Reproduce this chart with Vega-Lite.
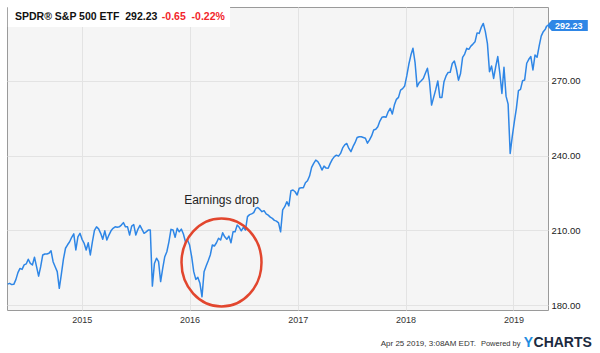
{
  "$schema": "https://vega.github.io/schema/vega-lite/v6.json",
  "width": 541,
  "height": 303,
  "autosize": {"type": "none"},
  "padding": {"left": 7, "top": 7, "right": 52, "bottom": 43},
  "background": "white",
  "config": {
    "font": "Liberation Sans",
    "view": {"fill": "#f5f5f5", "stroke": "#9a9a9a", "strokeWidth": 1}
  },
  "datasets": {
    "spy": [
      {"date": "2014-04-25", "close": 188.4}, {"date": "2014-05-02", "close": 188.7}, {"date": "2014-05-09", "close": 188.2}, {"date": "2014-05-16", "close": 188.3},
      {"date": "2014-05-23", "close": 190.2}, {"date": "2014-05-30", "close": 193.0}, {"date": "2014-06-06", "close": 194.7}, {"date": "2014-06-13", "close": 194.3},
      {"date": "2014-06-20", "close": 196.1}, {"date": "2014-06-27", "close": 196.5}, {"date": "2014-07-04", "close": 198.4}, {"date": "2014-07-11", "close": 196.7},
      {"date": "2014-07-18", "close": 196.1}, {"date": "2014-07-25", "close": 199.2}, {"date": "2014-08-01", "close": 195.4}, {"date": "2014-08-08", "close": 191.6},
      {"date": "2014-08-15", "close": 195.4}, {"date": "2014-08-22", "close": 200.1}, {"date": "2014-08-29", "close": 200.5}, {"date": "2014-09-05", "close": 200.5},
      {"date": "2014-09-12", "close": 200.8}, {"date": "2014-09-19", "close": 201.8}, {"date": "2014-09-26", "close": 197.4}, {"date": "2014-10-03", "close": 195.4},
      {"date": "2014-10-10", "close": 193.4}, {"date": "2014-10-17", "close": 186.7}, {"date": "2014-10-24", "close": 192.4}, {"date": "2014-10-31", "close": 198.4},
      {"date": "2014-11-07", "close": 202.8}, {"date": "2014-11-14", "close": 204.2}, {"date": "2014-11-21", "close": 205.4}, {"date": "2014-11-28", "close": 207.2},
      {"date": "2014-12-05", "close": 208.6}, {"date": "2014-12-12", "close": 202.1}, {"date": "2014-12-19", "close": 207.4}, {"date": "2014-12-26", "close": 208.8},
      {"date": "2015-01-02", "close": 206.4}, {"date": "2015-01-09", "close": 204.8}, {"date": "2015-01-16", "close": 202.1}, {"date": "2015-01-23", "close": 205.0},
      {"date": "2015-01-30", "close": 200.1}, {"date": "2015-02-06", "close": 205.4}, {"date": "2015-02-13", "close": 210.0}, {"date": "2015-02-20", "close": 211.4},
      {"date": "2015-02-27", "close": 210.6}, {"date": "2015-03-06", "close": 208.8}, {"date": "2015-03-13", "close": 206.4}, {"date": "2015-03-20", "close": 209.8},
      {"date": "2015-03-27", "close": 206.1}, {"date": "2015-04-03", "close": 208.1}, {"date": "2015-04-10", "close": 209.8}, {"date": "2015-04-17", "close": 210.8},
      {"date": "2015-04-24", "close": 211.4}, {"date": "2015-05-01", "close": 211.2}, {"date": "2015-05-08", "close": 211.4}, {"date": "2015-05-15", "close": 212.1},
      {"date": "2015-05-22", "close": 213.1}, {"date": "2015-05-29", "close": 211.4}, {"date": "2015-06-05", "close": 211.4}, {"date": "2015-06-12", "close": 208.1},
      {"date": "2015-06-19", "close": 211.7}, {"date": "2015-06-26", "close": 212.3}, {"date": "2015-07-03", "close": 208.1}, {"date": "2015-07-10", "close": 210.4},
      {"date": "2015-07-17", "close": 212.0}, {"date": "2015-07-24", "close": 210.4}, {"date": "2015-07-31", "close": 208.8}, {"date": "2015-08-07", "close": 209.4},
      {"date": "2015-08-14", "close": 210.1}, {"date": "2015-08-21", "close": 210.1}, {"date": "2015-08-28", "close": 187.6}, {"date": "2015-09-04", "close": 196.7},
      {"date": "2015-09-11", "close": 198.8}, {"date": "2015-09-18", "close": 197.4}, {"date": "2015-09-25", "close": 189.4}, {"date": "2015-10-02", "close": 194.7},
      {"date": "2015-10-09", "close": 199.4}, {"date": "2015-10-16", "close": 201.4}, {"date": "2015-10-23", "close": 205.4}, {"date": "2015-10-30", "close": 210.4},
      {"date": "2015-11-06", "close": 210.1}, {"date": "2015-11-13", "close": 207.2}, {"date": "2015-11-20", "close": 210.8}, {"date": "2015-11-27", "close": 209.4},
      {"date": "2015-12-04", "close": 210.5}, {"date": "2015-12-11", "close": 208.5}, {"date": "2015-12-18", "close": 205.4}, {"date": "2015-12-25", "close": 206.1},
      {"date": "2016-01-01", "close": 204.1}, {"date": "2016-01-08", "close": 199.4}, {"date": "2016-01-15", "close": 193.4}, {"date": "2016-01-22", "close": 190.3},
      {"date": "2016-01-29", "close": 191.1}, {"date": "2016-02-05", "close": 188.7}, {"date": "2016-02-12", "close": 183.3}, {"date": "2016-02-19", "close": 193.4},
      {"date": "2016-02-26", "close": 195.7}, {"date": "2016-03-04", "close": 197.8}, {"date": "2016-03-11", "close": 200.1}, {"date": "2016-03-18", "close": 204.1},
      {"date": "2016-03-25", "close": 203.7}, {"date": "2016-04-01", "close": 205.0}, {"date": "2016-04-08", "close": 206.8}, {"date": "2016-04-15", "close": 206.1},
      {"date": "2016-04-22", "close": 209.0}, {"date": "2016-04-29", "close": 207.4}, {"date": "2016-05-06", "close": 206.4}, {"date": "2016-05-13", "close": 207.7},
      {"date": "2016-05-20", "close": 205.0}, {"date": "2016-05-27", "close": 209.4}, {"date": "2016-06-03", "close": 209.4}, {"date": "2016-06-10", "close": 212.1},
      {"date": "2016-06-17", "close": 211.2}, {"date": "2016-06-24", "close": 209.8}, {"date": "2016-07-01", "close": 211.2}, {"date": "2016-07-08", "close": 210.1},
      {"date": "2016-07-15", "close": 215.5}, {"date": "2016-07-22", "close": 216.3}, {"date": "2016-07-29", "close": 216.6}, {"date": "2016-08-05", "close": 217.1},
      {"date": "2016-08-12", "close": 218.8}, {"date": "2016-08-19", "close": 219.2}, {"date": "2016-08-26", "close": 218.4}, {"date": "2016-09-02", "close": 217.5},
      {"date": "2016-09-09", "close": 217.9}, {"date": "2016-09-16", "close": 216.6}, {"date": "2016-09-23", "close": 216.1}, {"date": "2016-09-30", "close": 215.3},
      {"date": "2016-10-07", "close": 214.8}, {"date": "2016-10-14", "close": 214.0}, {"date": "2016-10-21", "close": 213.7}, {"date": "2016-10-28", "close": 213.0},
      {"date": "2016-11-04", "close": 209.4}, {"date": "2016-11-11", "close": 218.2}, {"date": "2016-11-18", "close": 219.5}, {"date": "2016-11-25", "close": 221.5},
      {"date": "2016-12-02", "close": 219.8}, {"date": "2016-12-09", "close": 225.9}, {"date": "2016-12-16", "close": 226.2}, {"date": "2016-12-23", "close": 225.5},
      {"date": "2016-12-30", "close": 224.2}, {"date": "2017-01-06", "close": 226.9}, {"date": "2017-01-13", "close": 227.1}, {"date": "2017-01-20", "close": 227.1},
      {"date": "2017-01-27", "close": 229.1}, {"date": "2017-02-03", "close": 229.9}, {"date": "2017-02-10", "close": 231.8}, {"date": "2017-02-17", "close": 235.3},
      {"date": "2017-02-24", "close": 236.9}, {"date": "2017-03-03", "close": 238.2}, {"date": "2017-03-10", "close": 237.6}, {"date": "2017-03-17", "close": 236.2},
      {"date": "2017-03-24", "close": 234.2}, {"date": "2017-03-31", "close": 235.8}, {"date": "2017-04-07", "close": 235.0}, {"date": "2017-04-14", "close": 234.9},
      {"date": "2017-04-21", "close": 236.9}, {"date": "2017-04-28", "close": 238.5}, {"date": "2017-05-05", "close": 239.6}, {"date": "2017-05-12", "close": 240.2},
      {"date": "2017-05-19", "close": 239.8}, {"date": "2017-05-26", "close": 240.9}, {"date": "2017-06-02", "close": 243.1}, {"date": "2017-06-09", "close": 244.3},
      {"date": "2017-06-16", "close": 244.9}, {"date": "2017-06-23", "close": 242.9}, {"date": "2017-06-30", "close": 241.6}, {"date": "2017-07-07", "close": 243.6},
      {"date": "2017-07-14", "close": 245.2}, {"date": "2017-07-21", "close": 247.3}, {"date": "2017-07-28", "close": 247.6}, {"date": "2017-08-04", "close": 247.6},
      {"date": "2017-08-11", "close": 247.3}, {"date": "2017-08-18", "close": 247.0}, {"date": "2017-08-25", "close": 245.0}, {"date": "2017-09-01", "close": 246.3},
      {"date": "2017-09-08", "close": 247.9}, {"date": "2017-09-15", "close": 250.3}, {"date": "2017-09-22", "close": 250.6}, {"date": "2017-09-29", "close": 251.6},
      {"date": "2017-10-06", "close": 253.9}, {"date": "2017-10-13", "close": 255.4}, {"date": "2017-10-20", "close": 255.6}, {"date": "2017-10-27", "close": 255.4},
      {"date": "2017-11-03", "close": 257.6}, {"date": "2017-11-10", "close": 259.0}, {"date": "2017-11-17", "close": 256.7}, {"date": "2017-11-24", "close": 260.3},
      {"date": "2017-12-01", "close": 262.6}, {"date": "2017-12-08", "close": 263.4}, {"date": "2017-12-15", "close": 266.3}, {"date": "2017-12-22", "close": 266.9},
      {"date": "2017-12-29", "close": 268.0}, {"date": "2018-01-05", "close": 272.0}, {"date": "2018-01-12", "close": 276.7}, {"date": "2018-01-19", "close": 280.4},
      {"date": "2018-01-26", "close": 283.1}, {"date": "2018-02-02", "close": 277.5}, {"date": "2018-02-09", "close": 267.7}, {"date": "2018-02-16", "close": 269.3},
      {"date": "2018-02-23", "close": 270.1}, {"date": "2018-03-02", "close": 271.0}, {"date": "2018-03-09", "close": 273.1}, {"date": "2018-03-16", "close": 275.1},
      {"date": "2018-03-23", "close": 269.7}, {"date": "2018-03-30", "close": 260.3}, {"date": "2018-04-06", "close": 263.4}, {"date": "2018-04-13", "close": 266.5},
      {"date": "2018-04-20", "close": 270.0}, {"date": "2018-04-27", "close": 263.4}, {"date": "2018-05-04", "close": 263.4}, {"date": "2018-05-11", "close": 269.7},
      {"date": "2018-05-18", "close": 272.0}, {"date": "2018-05-25", "close": 273.4}, {"date": "2018-06-01", "close": 273.5}, {"date": "2018-06-08", "close": 277.0},
      {"date": "2018-06-15", "close": 278.0}, {"date": "2018-06-22", "close": 274.8}, {"date": "2018-06-29", "close": 270.3}, {"date": "2018-07-06", "close": 273.0},
      {"date": "2018-07-13", "close": 279.5}, {"date": "2018-07-20", "close": 280.8}, {"date": "2018-07-27", "close": 283.1}, {"date": "2018-08-03", "close": 282.7},
      {"date": "2018-08-10", "close": 284.0}, {"date": "2018-08-17", "close": 284.8}, {"date": "2018-08-24", "close": 285.7}, {"date": "2018-08-31", "close": 289.3},
      {"date": "2018-09-07", "close": 289.1}, {"date": "2018-09-14", "close": 291.5}, {"date": "2018-09-21", "close": 293.1}, {"date": "2018-09-28", "close": 289.8},
      {"date": "2018-10-05", "close": 285.0}, {"date": "2018-10-12", "close": 273.7}, {"date": "2018-10-19", "close": 276.0}, {"date": "2018-10-26", "close": 271.0},
      {"date": "2018-11-02", "close": 275.7}, {"date": "2018-11-09", "close": 279.8}, {"date": "2018-11-16", "close": 273.1}, {"date": "2018-11-23", "close": 265.0},
      {"date": "2018-11-30", "close": 275.5}, {"date": "2018-12-07", "close": 263.9}, {"date": "2018-12-14", "close": 260.7}, {"date": "2018-12-21", "close": 240.9},
      {"date": "2018-12-28", "close": 247.6}, {"date": "2019-01-04", "close": 253.6}, {"date": "2019-01-11", "close": 259.0}, {"date": "2019-01-18", "close": 266.1},
      {"date": "2019-01-25", "close": 266.6}, {"date": "2019-02-01", "close": 270.1}, {"date": "2019-02-08", "close": 270.4}, {"date": "2019-02-15", "close": 277.1},
      {"date": "2019-02-22", "close": 278.7}, {"date": "2019-03-01", "close": 279.8}, {"date": "2019-03-08", "close": 274.4}, {"date": "2019-03-15", "close": 280.4},
      {"date": "2019-03-22", "close": 279.5}, {"date": "2019-03-29", "close": 284.0}, {"date": "2019-04-05", "close": 288.0}, {"date": "2019-04-12", "close": 289.8},
      {"date": "2019-04-19", "close": 290.8}, {"date": "2019-04-24", "close": 292.23}
    ]
  },
  "layer": [
    {
      "data": {"name": "spy"},
      "mark": {"type": "line", "color": "#2e86e6", "strokeWidth": 1.5, "strokeJoin": "round"},
      "encoding": {
        "x": {
          "field": "date", "type": "temporal",
          "scale": {"domain": [{"year": 2014, "month": 4, "date": 23}, {"year": 2019, "month": 4, "date": 28}]},
          "axis": {
            "title": null, "format": "%Y", "ticks": false, "domain": false, "grid": true,
            "gridColor": "#e3e3e3", "labelFontSize": 9, "labelColor": "#333333", "labelPadding": 5,
            "labelFlush": false, "labelOverlap": false,
            "values": [{"year": 2015, "month": 1, "date": 1}, {"year": 2016, "month": 1, "date": 1}, {"year": 2017, "month": 1, "date": 1}, {"year": 2018, "month": 1, "date": 1}, {"year": 2019, "month": 1, "date": 1}]
          }
        },
        "y": {
          "field": "close", "type": "quantitative",
          "scale": {"domain": [178.0, 299.7], "nice": false, "zero": false},
          "axis": {
            "orient": "right", "title": null, "format": ".2f", "ticks": false, "domain": false,
            "gridColor": "#e3e3e3", "labelFontSize": 9.5, "labelColor": "#222222", "labelPadding": 3,
            "values": [180, 210, 240, 270]
          }
        }
      }
    },
    {
      "data": {"values": [{}]},
      "mark": {"type": "rect", "fill": "white"},
      "encoding": {
        "x": {"datum": {"year": 2014, "month": 4, "date": 26}, "type": "temporal"},
        "x2": {"datum": {"year": 2016, "month": 5, "date": 17}},
        "y": {"datum": 299.7, "type": "quantitative"},
        "y2": {"datum": 291.7}
      }
    },
    {
      "data": {"values": [{}]},
      "mark": {"type": "text", "align": "left", "baseline": "alphabetic", "fontWeight": "bold", "fontSize": 10.5, "color": "#111111"},
      "encoding": {
        "x": {"datum": {"year": 2014, "month": 5, "date": 20}, "type": "temporal"},
        "y": {"datum": 294.5, "type": "quantitative"},
        "text": {"value": "SPDR® S&P 500 ETF\u00a0\u00a0292.23"}
      }
    },
    {
      "data": {"values": [{}]},
      "mark": {"type": "text", "align": "left", "baseline": "alphabetic", "fontWeight": "bold", "fontSize": 10.5, "color": "#f2262b"},
      "encoding": {
        "x": {"datum": {"year": 2015, "month": 9, "date": 29}, "type": "temporal"},
        "y": {"datum": 294.5, "type": "quantitative"},
        "text": {"value": "-0.65\u00a0\u00a0-0.22%"}
      }
    },
    {
      "data": {"values": [{}]},
      "mark": {"type": "text", "align": "center", "baseline": "middle", "fontSize": 12, "color": "#222222"},
      "encoding": {
        "x": {"datum": {"year": 2016, "month": 4, "date": 18}, "type": "temporal"},
        "y": {"datum": 222.2, "type": "quantitative"},
        "text": {"value": "Earnings drop"}
      }
    },
    {
      "data": {"values": [{}]},
      "mark": {
        "type": "point", "filled": false, "stroke": "#e2462e", "strokeWidth": 2.5, "size": 4, "opacity": 1,
        "shape": "M-40,0 C-40,-24.3 -22.1,-44 0,-44 C22.1,-44 40,-24.3 40,0 C40,24.3 22.1,44 0,44 C-22.1,44 -40,24.3 -40,0 Z"
      },
      "encoding": {
        "x": {"datum": {"year": 2016, "month": 4, "date": 18}, "type": "temporal"},
        "y": {"datum": 197.1, "type": "quantitative"}
      }
    },
    {
      "data": {"values": [{}]},
      "mark": {
        "type": "point", "filled": true, "fill": "#2e86e6", "size": 4, "opacity": 1, "strokeWidth": 0,
        "shape": "M0,0 L5,-5.5 L41,-5.5 L41,5.5 L5,5.5 Z"
      },
      "encoding": {
        "x": {"datum": {"year": 2019, "month": 4, "date": 24}, "type": "temporal"},
        "y": {"datum": 292.23, "type": "quantitative"}
      }
    },
    {
      "data": {"values": [{}]},
      "mark": {"type": "text", "align": "center", "baseline": "middle", "fontWeight": "bold", "fontSize": 9, "color": "white", "dx": 22},
      "encoding": {
        "x": {"datum": {"year": 2019, "month": 4, "date": 24}, "type": "temporal"},
        "y": {"datum": 292.23, "type": "quantitative"},
        "text": {"value": "292.23"}
      }
    },
    {
      "data": {"values": [{}]},
      "mark": {"type": "text", "align": "right", "baseline": "alphabetic", "fontSize": 8, "color": "#333333"},
      "encoding": {
        "x": {"datum": {"year": 2018, "month": 8, "date": 27}, "type": "temporal"},
        "y": {"datum": 163.6, "type": "quantitative"},
        "text": {"value": "Apr 25 2019, 3:08AM EDT."}
      }
    },
    {
      "data": {"values": [{}]},
      "mark": {"type": "text", "align": "left", "baseline": "alphabetic", "fontSize": 7.5, "color": "#333333"},
      "encoding": {
        "x": {"datum": {"year": 2018, "month": 9, "date": 13}, "type": "temporal"},
        "y": {"datum": 163.6, "type": "quantitative"},
        "text": {"value": "Powered by"}
      }
    },
    {
      "data": {"values": [{}]},
      "mark": {"type": "text", "align": "left", "baseline": "alphabetic", "fontSize": 14, "fontWeight": "bold", "color": "#1f8ce0"},
      "encoding": {
        "x": {"datum": {"year": 2019, "month": 2, "date": 5}, "type": "temporal"},
        "y": {"datum": 163.3, "type": "quantitative"},
        "text": {"value": "Y"}
      }
    },
    {
      "data": {"values": [{}]},
      "mark": {"type": "text", "align": "left", "baseline": "alphabetic", "fontSize": 14, "fontWeight": "bold", "color": "#1b2a3e"},
      "encoding": {
        "x": {"datum": {"year": 2019, "month": 3, "date": 10}, "type": "temporal"},
        "y": {"datum": 163.3, "type": "quantitative"},
        "text": {"value": "CHARTS"}
      }
    }
  ]
}
